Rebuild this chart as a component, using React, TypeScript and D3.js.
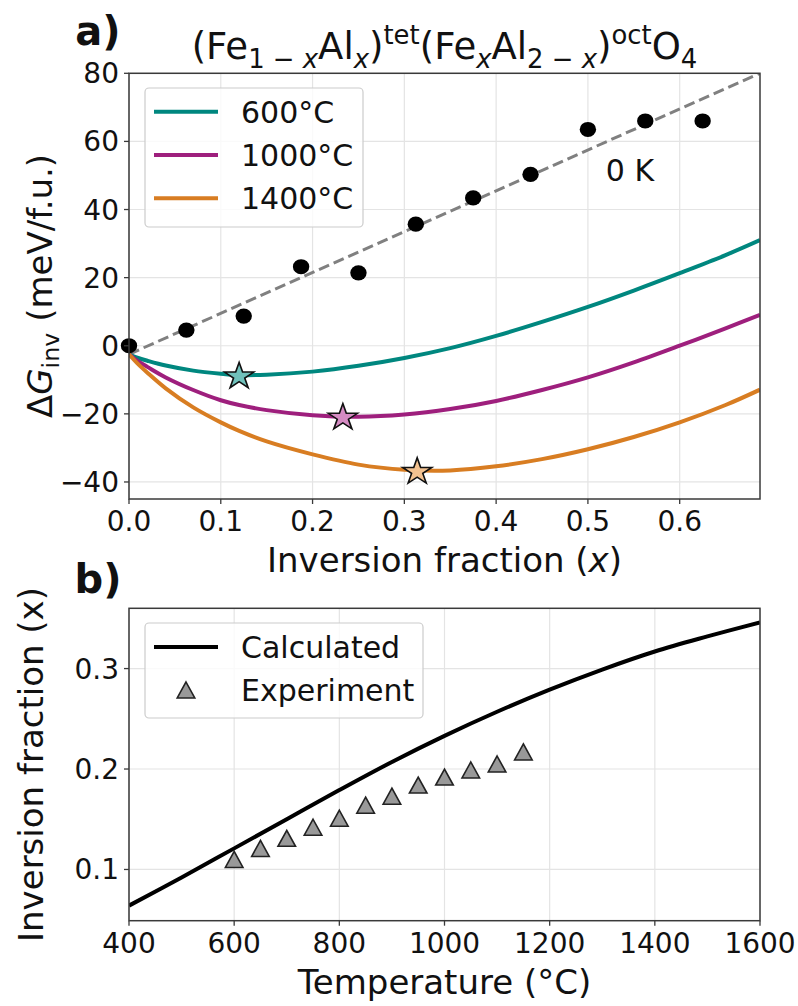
import React from 'react';
import * as d3 from 'd3';

// ---------- Panel a data ----------
const dotX = [0, 0.0625, 0.125, 0.1875, 0.25, 0.3125, 0.375, 0.4375, 0.5, 0.5625, 0.625];
const dotY = [0, 4.6, 8.7, 23.2, 21.4, 35.7, 43.4, 50.3, 63.5, 66.0, 66.0];
const fitX = [0, 0.6875];
const fitY = [-2.5, 80];
const curveX = [0, 0.01, 0.02, 0.04, 0.07, 0.1, 0.12, 0.15, 0.2, 0.25, 0.3, 0.35, 0.4, 0.45, 0.5, 0.55, 0.6, 0.65, 0.6875];
const g600 = [-2.5, -3.6, -4.4, -5.8, -7.3, -8.2, -8.6, -8.5, -7.6, -5.9, -3.6, -0.7, 2.9, 7.0, 11.4, 16.2, 21.3, 26.6, 31.0];
const g1000 = [-2.5, -4.6, -6.2, -9.3, -13.0, -16.0, -17.4, -18.9, -20.4, -20.85, -20.2, -18.6, -16.2, -13.0, -9.3, -4.9, 0.0, 5.1, 9.1];
const g1400 = [-2.5, -5.4, -7.9, -12.5, -18.1, -22.5, -25.0, -28.1, -31.9, -34.9, -36.4, -36.6, -35.4, -33.3, -30.4, -26.8, -22.5, -17.4, -12.9];
const seriesNames = ['600°C', '1000°C', '1400°C'];
const seriesColors = ['#00877f', '#9e1f7d', '#d87d22'];
const starFills = ['#70c1bb', '#d58bc3', '#f3c290'];
const starX = [0.12, 0.233, 0.314];
const starY = [-8.7, -20.8, -36.7];
const aXTicks = [0, 0.1, 0.2, 0.3, 0.4, 0.5, 0.6];
const aXTickLabels = ['0.0', '0.1', '0.2', '0.3', '0.4', '0.5', '0.6'];
const aYTicks = [-40, -20, 0, 20, 40, 60, 80];
const aYTickLabels = ['−40', '−20', '0', '20', '40', '60', '80'];

// ---------- Panel b data ----------
const calcT = [400, 500, 600, 700, 800, 900, 1000, 1100, 1200, 1300, 1400, 1500, 1600];
const calcX = [0.064, 0.092, 0.121, 0.150, 0.179, 0.207, 0.233, 0.257, 0.279, 0.299, 0.317, 0.332, 0.346];
const expT = [600, 650, 700, 750, 800, 850, 900, 950, 1000, 1050, 1100, 1150];
const expX = [0.110, 0.121, 0.131, 0.142, 0.151, 0.164, 0.173, 0.184, 0.192, 0.199, 0.205, 0.217];
const bXTicks = [400, 600, 800, 1000, 1200, 1400, 1600];
const bXTickLabels = ['400', '600', '800', '1000', '1200', '1400', '1600'];
const bYTicks = [0.1, 0.2, 0.3];
const bYTickLabels = ['0.1', '0.2', '0.3'];

const MSX = 1.1; // marker horizontal aspect
const FONT = "'DejaVu Sans', 'Liberation Sans', sans-serif";
const TICK = 28;
const LABEL = 34;
const LEG = 30;
const TITLE = 37;

const A = { left: 129, right: 760, top: 73.3, bottom: 499 };
const B = { left: 129, right: 760, top: 608.3, bottom: 920.7 };

const xA = d3.scaleLinear().domain([0, 0.6875]).range([A.left, A.right]);
const yA = d3.scaleLinear().domain([-45, 80]).range([A.bottom, A.top]);
const xB = d3.scaleLinear().domain([400, 1600]).range([B.left, B.right]);
const yB = d3.scaleLinear().domain([0.049, 0.36]).range([B.bottom, B.top]);

const Txt = ({ x, y, size, anchor = 'middle', weight = 'normal', rot = false, children }: any) => (
  <g transform={`translate(${x},${y})${rot ? ' rotate(-90)' : ''}`}>
    <text x={0} y={0} fontSize={size} textAnchor={anchor} fontWeight={weight} fill="#111" fontFamily={FONT}>
      {children}
    </text>
  </g>
);

const starPath = (R: number) => {
  const pts: [number, number][] = [];
  for (let i = 0; i < 10; i++) {
    const a = -Math.PI / 2 + (i * Math.PI) / 5;
    const r = i % 2 ? R * 0.382 : R;
    pts.push([r * Math.cos(a), r * Math.sin(a)]);
  }
  return 'M' + pts.map((p) => p.join(',')).join('L') + 'Z';
};

const triPath = (s: number) => `M0,${-s / 2}L${s / 2},${s / 2}L${-s / 2},${s / 2}Z`;

const FRAME = '#3a3a3a';
const GRID = '#e4e4e4';

export default function App() {
  const lineA = d3.line<number>().x((_, i) => xA(curveX[i])).y((d) => yA(d)).curve(d3.curveCatmullRom.alpha(0.5));
  const fitLine = d3.line<number>().x((_, i) => xA(fitX[i])).y((d) => yA(d));
  const lineB = d3.line<number>().x((_, i) => xB(calcT[i])).y((d) => yB(d)).curve(d3.curveCatmullRom.alpha(0.5));
  const curves = [g600, g1000, g1400];
  const sub = TITLE * 0.7;
  const dSub = 9;
  const dSup = 15;

  return (
    <svg width={798} height={1006} style={{ position: 'absolute', left: 0, top: 0, background: '#fff' }}>
      <defs>
        <clipPath id="clipA">
          <rect x={A.left} y={A.top} width={A.right - A.left} height={A.bottom - A.top} />
        </clipPath>
        <clipPath id="clipB">
          <rect x={B.left} y={B.top} width={B.right - B.left} height={B.bottom - B.top} />
        </clipPath>
      </defs>
      <rect x={0} y={0} width={798} height={1006} fill="#fff" />

      {/* ---------------- Panel a ---------------- */}
      <g>
        {aXTicks.map((t) => (
          <line key={'gax' + t} x1={xA(t)} x2={xA(t)} y1={A.top} y2={A.bottom} stroke={GRID} strokeWidth={1.2} />
        ))}
        {aYTicks.map((t) => (
          <line key={'gay' + t} x1={A.left} x2={A.right} y1={yA(t)} y2={yA(t)} stroke={GRID} strokeWidth={1.2} />
        ))}
        <g clipPath="url(#clipA)">
          <path d={fitLine(fitY) || ''} fill="none" stroke="#808080" strokeWidth={3} strokeDasharray="11,5" />
          {curves.map((c, i) => (
            <path key={'c' + i} d={lineA(c) || ''} fill="none" stroke={seriesColors[i]} strokeWidth={4} />
          ))}
        </g>
        {dotX.map((x, i) => (
          <ellipse key={'d' + i} cx={xA(x)} cy={yA(dotY[i])} rx={8.2} ry={7.6} fill="#000" />
        ))}
        {starX.map((x, i) => (
          <path
            key={'s' + i}
            d={starPath(14)}
            transform={`translate(${xA(x)},${yA(starY[i]) + 1}) scale(${MSX},1)`}
            fill={starFills[i]}
            stroke="#111"
            strokeWidth={1.5}
            strokeLinejoin="miter"
          />
        ))}
        <rect x={A.left} y={A.top} width={A.right - A.left} height={A.bottom - A.top} fill="none" stroke={FRAME} strokeWidth={1.5} />
        {aXTicks.map((t, i) => (
          <g key={'tax' + t}>
            <line x1={xA(t)} x2={xA(t)} y1={A.bottom} y2={A.bottom + 5} stroke={FRAME} strokeWidth={1.3} />
            <Txt x={xA(t)} y={531} size={TICK}>{aXTickLabels[i]}</Txt>
          </g>
        ))}
        {aYTicks.map((t, i) => (
          <g key={'tay' + t}>
            <line x1={A.left - 5} x2={A.left} y1={yA(t)} y2={yA(t)} stroke={FRAME} strokeWidth={1.3} />
            <Txt x={119} y={yA(t) + 10} size={TICK} anchor="end">{aYTickLabels[i]}</Txt>
          </g>
        ))}
        <Txt x={444.5} y={572} size={LABEL}>
          Inversion fraction (<tspan fontStyle="italic">x</tspan>)
        </Txt>
        <Txt x={52} y={286} size={LABEL} rot>
          Δ<tspan fontStyle="italic">G</tspan>
          <tspan fontSize={LABEL * 0.7} dy={7}>inv</tspan>
          <tspan dy={-7}> (meV/f.u.)</tspan>
        </Txt>
        <Txt x={630} y={181} size={LEG}>0 K</Txt>

        {/* legend a */}
        <rect x={145} y={88} width={218} height={139} rx={4} fill="#fff" fillOpacity={0.8} stroke="#cccccc" strokeWidth={1.2} />
        {seriesNames.map((n, i) => {
          const ly = 111.7 + i * 43.3;
          return (
            <g key={'la' + i}>
              <line x1={154} x2={218} y1={ly} y2={ly} stroke={seriesColors[i]} strokeWidth={4} />
              <Txt x={241} y={ly + 11} size={LEG} anchor="start">{n}</Txt>
            </g>
          );
        })}

        {/* title */}
        <Txt x={444.5} y={59} size={TITLE}>
          (Fe<tspan fontSize={sub} dy={dSub}>1 − </tspan>
          <tspan fontSize={sub} fontStyle="italic">x</tspan>
          <tspan dy={-dSub}>Al</tspan>
          <tspan fontSize={sub} fontStyle="italic" dy={dSub}>x</tspan>
          <tspan dy={-dSub}>)</tspan>
          <tspan fontSize={sub} dy={-dSup}>tet</tspan>
          <tspan dy={dSup}>(Fe</tspan>
          <tspan fontSize={sub} fontStyle="italic" dy={dSub}>x</tspan>
          <tspan dy={-dSub}>Al</tspan>
          <tspan fontSize={sub} dy={dSub}>2 − </tspan>
          <tspan fontSize={sub} fontStyle="italic">x</tspan>
          <tspan dy={-dSub}>)</tspan>
          <tspan fontSize={sub} dy={-dSup}>oct</tspan>
          <tspan dy={dSup}>O</tspan>
          <tspan fontSize={sub} dy={dSub}>4</tspan>
        </Txt>
        <Txt x={98} y={45} size={40} weight="bold">a)</Txt>
      </g>

      {/* ---------------- Panel b ---------------- */}
      <g>
        {bXTicks.map((t) => (
          <line key={'gbx' + t} x1={xB(t)} x2={xB(t)} y1={B.top} y2={B.bottom} stroke={GRID} strokeWidth={1.2} />
        ))}
        {bYTicks.map((t) => (
          <line key={'gby' + t} x1={B.left} x2={B.right} y1={yB(t)} y2={yB(t)} stroke={GRID} strokeWidth={1.2} />
        ))}
        <g clipPath="url(#clipB)">
          <path d={lineB(calcX) || ''} fill="none" stroke="#000" strokeWidth={4} />
        </g>
        {expT.map((t, i) => (
          <path
            key={'e' + i}
            d={triPath(16)}
            transform={`translate(${xB(t)},${yB(expX[i])}) scale(${MSX},1)`}
            fill="#999999"
            stroke="#222"
            strokeWidth={1.5}
            strokeLinejoin="miter"
          />
        ))}
        <rect x={B.left} y={B.top} width={B.right - B.left} height={B.bottom - B.top} fill="none" stroke={FRAME} strokeWidth={1.5} />
        {bXTicks.map((t, i) => (
          <g key={'tbx' + t}>
            <line x1={xB(t)} x2={xB(t)} y1={B.bottom} y2={B.bottom + 5} stroke={FRAME} strokeWidth={1.3} />
            <Txt x={xB(t)} y={953} size={TICK}>{bXTickLabels[i]}</Txt>
          </g>
        ))}
        {bYTicks.map((t, i) => (
          <g key={'tby' + t}>
            <line x1={B.left - 5} x2={B.left} y1={yB(t)} y2={yB(t)} stroke={FRAME} strokeWidth={1.3} />
            <Txt x={119} y={yB(t) + 10} size={TICK} anchor="end">{bYTickLabels[i]}</Txt>
          </g>
        ))}
        <Txt x={444.5} y={994} size={LABEL}>Temperature (°C)</Txt>
        <Txt x={43} y={764.5} size={LABEL} rot>Inversion fraction (x)</Txt>

        {/* legend b */}
        <rect x={145} y={623} width={278} height={95} rx={4} fill="#fff" fillOpacity={0.8} stroke="#cccccc" strokeWidth={1.2} />
        <line x1={154} x2={218} y1={647} y2={647} stroke="#000" strokeWidth={4} />
        <Txt x={241} y={658} size={LEG} anchor="start">Calculated</Txt>
        <path d={triPath(16)} transform={`translate(186,690) scale(${MSX},1)`} fill="#999999" stroke="#222" strokeWidth={1.5} />
        <Txt x={241} y={701} size={LEG} anchor="start">Experiment</Txt>

        <Txt x={98} y={593} size={40} weight="bold">b)</Txt>
      </g>
    </svg>
  );
}
